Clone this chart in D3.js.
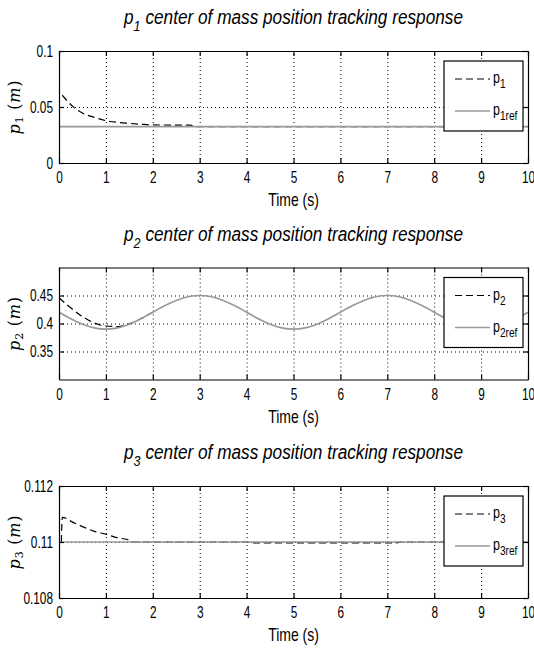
<!DOCTYPE html>
<html>
<head>
<meta charset="utf-8">
<script src="https://cdn.jsdelivr.net/npm/d3@7"></script>
<style>
body { margin: 0; background: #fff; }
svg { display: block; }
.tick text { font-family: "Liberation Sans", Arial, sans-serif; font-size: 16px; fill: #000; }
.narrow { font-family: "Liberation Sans", Arial, sans-serif; }
.tex { font-family: "DejaVu Serif", "Liberation Serif", serif; }
</style>
</head>
<body>
<svg id="chart" width="534" height="652"></svg>
<script>
// time axis
var timeTicks = [0, 1, 2, 3, 4, 5, 6, 7, 8, 9, 10];

// p1 panel
var p1Time = [0.07, 0.3, 0.5, 0.75, 1, 1.25, 1.5, 1.75, 2, 2.4, 2.8, 2.9, 10];
var p1Value = [0.0605, 0.0503, 0.0446, 0.0408, 0.0378, 0.0363, 0.0354, 0.0346, 0.0340, 0.0339, 0.0338, 0.0324, 0.0324];
var p1RefTime = [0, 10];
var p1RefValue = [0.0324, 0.0324];
var p1YTicks = [0, 0.05, 0.1];
var p1YLabels = ["0", "0.05", "0.1"];

// p2 panel
var p2Time = [0, 0.25, 0.5, 0.75, 1, 1.25, 1.5, 1.75, 2];
var p2Value = [0.446, 0.428, 0.4125, 0.401, 0.3955, 0.3945, 0.3995, 0.4088, 0.420];
var p2RefTime = [0, 0.25, 0.5, 0.75, 1, 1.25, 1.5, 1.75, 2, 2.25, 2.5, 2.75, 3, 3.25, 3.5, 3.75, 4,
                 4.25, 4.5, 4.75, 5, 5.25, 5.5, 5.75, 6, 6.25, 6.5, 6.75, 7, 7.25, 7.5, 7.75, 8,
                 8.25, 8.5, 8.75, 9, 9.25, 9.5, 9.75, 10];
var p2RefValue = [0.420, 0.4085, 0.3988, 0.3923, 0.390, 0.3923, 0.3988, 0.4085, 0.420, 0.4315, 0.4412, 0.4477, 0.450, 0.4477, 0.4412, 0.4315, 0.420,
                  0.4085, 0.3988, 0.3923, 0.390, 0.3923, 0.3988, 0.4085, 0.420, 0.4315, 0.4412, 0.4477, 0.450, 0.4477, 0.4412, 0.4315, 0.420,
                  0.4085, 0.3988, 0.3923, 0.390, 0.3923, 0.3988, 0.4085, 0.420];
var p2YTicks = [0.35, 0.4, 0.45];
var p2YLabels = ["0.35", "0.4", "0.45"];

// p3 panel
var p3Time = [0.05, 0.07, 0.3, 0.5, 0.75, 1, 1.25, 1.45, 1.6, 4.0, 4.15, 7.2, 7.3, 10];
var p3Value = [0.1100, 0.11088, 0.1107, 0.11055, 0.11038, 0.11028, 0.11015, 0.11009, 0.1100, 0.1100, 0.10997, 0.10997, 0.1100, 0.1100];
var p3RefTime = [0, 10];
var p3RefValue = [0.11, 0.11];
var p3YTicks = [0.108, 0.11, 0.112];
var p3YLabels = ["0.108", "0.11", "0.112"];

var svg = d3.select("#chart");
var left = 59, right = 528, plotH = 112;
var squeeze = 0.74;   // the original fonts are condensed

var x = d3.scaleLinear().domain([0, 10]).range([left, right]);

function zip(t, v) { return t.map(function (d, i) { return [d, v[i]]; }); }

function dotted(s)
{
    s.select(".domain").remove();
    s.selectAll("line").attr("stroke", "#000").attr("stroke-width", 1).attr("stroke-dasharray", "1,3");
}

function solid(s)
{
    s.selectAll(".domain, .tick line").attr("stroke", "#000").attr("stroke-width", 1.2);
}

function drawPanel(idx, top, yDomain, yTicks, yLabels, mTime, mValue, rTime, rValue)
{
    var y = d3.scaleLinear().domain(yDomain).range([top + plotH, top]);
    var g = svg.append("g");

    g.append("clipPath").attr("id", "clip" + idx)
        .append("rect").attr("x", left).attr("y", top).attr("width", right - left).attr("height", plotH);

    // dotted grid
    g.append("g").attr("transform", "translate(0," + (top + plotH) + ")")
        .call(d3.axisBottom(x).tickValues(timeTicks).tickSize(-plotH).tickFormat(""))
        .call(dotted);
    g.append("g").attr("transform", "translate(" + left + ",0)")
        .call(d3.axisLeft(y).tickValues(yTicks).tickSize(-(right - left)).tickFormat(""))
        .call(dotted);

    var line = d3.line().x(function (d) { return x(d[0]); }).y(function (d) { return y(d[1]); })
        .curve(d3.curveMonotoneX);

    g.append("path").datum(zip(mTime, mValue))
        .attr("clip-path", "url(#clip" + idx + ")")
        .attr("fill", "none").attr("stroke", "#000").attr("stroke-width", 1.2)
        .attr("stroke-dasharray", "7,4").attr("d", line);
    g.append("path").datum(zip(rTime, rValue))
        .attr("clip-path", "url(#clip" + idx + ")")
        .attr("fill", "none").attr("stroke", "#999").attr("stroke-width", 1.7)
        .attr("d", line.curve(d3.curveNatural));

    // axes with inward ticks on all sides
    g.append("g").attr("transform", "translate(0," + (top + plotH) + ")")
        .call(d3.axisBottom(x).tickValues(timeTicks).tickSizeInner(-5).tickSizeOuter(0).tickPadding(9))
        .call(solid)
        .selectAll(".tick text").attr("transform", "scale(" + squeeze + ",1)");
    g.append("g").attr("transform", "translate(0," + top + ")")
        .call(d3.axisTop(x).tickValues(timeTicks).tickSizeInner(-5).tickSizeOuter(0).tickFormat(""))
        .call(solid);
    g.append("g").attr("transform", "translate(" + left + ",0)")
        .call(d3.axisLeft(y).tickValues(yTicks).tickSizeInner(-5).tickSizeOuter(0).tickPadding(6)
            .tickFormat(function (d, i) { return yLabels[i]; }))
        .call(solid)
        .selectAll(".tick text")
        .attr("x", -6 / squeeze)
        .attr("transform", "scale(" + squeeze + ",1)");
    g.append("g").attr("transform", "translate(" + right + ",0)")
        .call(d3.axisRight(y).tickValues(yTicks).tickSizeInner(-5).tickSizeOuter(0).tickFormat(""))
        .call(solid);

    // legend
    var lx = right - 84, ly = top + 10;
    var leg = g.append("g").attr("transform", "translate(" + lx + "," + ly + ")");
    leg.append("rect").attr("width", 79).attr("height", 70)
        .attr("fill", "#fff").attr("stroke", "#000").attr("stroke-width", 1.2);
    leg.append("line").attr("x1", 11).attr("x2", 46).attr("y1", 18).attr("y2", 18)
        .attr("stroke", "#000").attr("stroke-width", 1.2).attr("stroke-dasharray", "7,4");
    leg.append("line").attr("x1", 11).attr("x2", 46).attr("y1", 50).attr("y2", 50)
        .attr("stroke", "#999").attr("stroke-width", 1.7);
    var t1 = leg.append("text").attr("class", "narrow").attr("font-size", 16)
        .attr("transform", "translate(49,22) scale(0.78,1)");
    t1.append("tspan").text("p");
    t1.append("tspan").attr("dy", 5).attr("font-size", 13).text(idx);
    var t2 = leg.append("text").attr("class", "narrow").attr("font-size", 16)
        .attr("transform", "translate(49,54) scale(0.78,1)");
    t2.append("tspan").text("p");
    t2.append("tspan").attr("dy", 5).attr("font-size", 13).text(idx + "ref");

    // title
    var title = g.append("text").attr("class", "narrow").attr("text-anchor", "middle")
        .attr("transform", "translate(" + ((left + right) / 2) + "," + (top - 27) + ") scale(0.84,1)")
        .attr("font-size", 20.5).attr("font-style", "italic");
    title.append("tspan").text("p");
    title.append("tspan").attr("dy", 7).attr("font-size", 15).text(idx);
    title.append("tspan").attr("dy", -7).text(" center of mass position tracking response");

    // x label
    g.append("text").attr("class", "narrow").attr("text-anchor", "middle")
        .attr("transform", "translate(" + ((left + right) / 2) + "," + (top + plotH + 43) + ") scale(0.8,1)")
        .attr("font-size", 17.5)
        .text("Time (s)");

    // y label
    var yl = g.append("text").attr("class", "tex").attr("text-anchor", "middle")
        .attr("transform", "translate(20," + (top + plotH / 2) + ") rotate(-90)")
        .attr("font-size", 16).attr("letter-spacing", 0.8);
    yl.append("tspan").attr("font-style", "italic").text("p");
    yl.append("tspan").attr("dy", 3).attr("font-size", 11).text(idx);
    yl.append("tspan").attr("dy", -3).text(" (");
    yl.append("tspan").attr("font-style", "italic").text("m");
    yl.append("tspan").text(")");
}

drawPanel(1, 51, [0, 0.1], p1YTicks, p1YLabels, p1Time, p1Value, p1RefTime, p1RefValue);
drawPanel(2, 267.5, [0.3, 0.5], p2YTicks, p2YLabels, p2Time, p2Value, p2RefTime, p2RefValue);
drawPanel(3, 486, [0.108, 0.112], p3YTicks, p3YLabels, p3Time, p3Value, p3RefTime, p3RefValue);
</script>
</body>
</html>
